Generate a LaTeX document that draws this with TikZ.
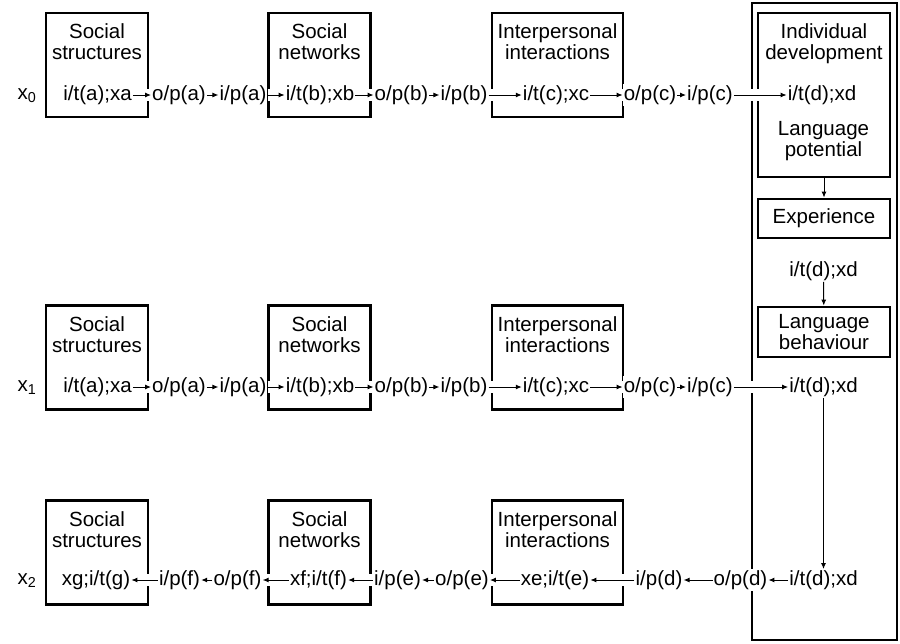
\documentclass[tikz,border=0pt]{standalone}
\usepackage{fontspec}
\setmainfont{Liberation Sans}
\usetikzlibrary{arrows.meta,positioning}

\tikzset{
  box/.style={draw, line width=2.8pt, minimum width=102pt, minimum height=104pt, inner sep=0pt},
  wide/.style={box, minimum width=131pt},
  side/.style={box, minimum width=132pt, align=center},
  title/.style={align=center, inner sep=0pt},
  lab/.style={fill=white, inner sep=1pt, text height=15pt, text depth=4.5pt},
  link/.style={->, line width=1pt, preaction={draw=white, line width=12pt, -}},
  down/.style={->, line width=1pt},
}

\begin{document}
\begin{tikzpicture}[x=1pt, y=-1pt, font=\fontsize{20.5}{21}\selectfont, >={Latex[length=6pt,width=5pt]}]
\useasboundingbox (0,0) rectangle (900,643);

% the individual, right
\node[draw, line width=2.8pt, minimum width=145pt, minimum height=637pt, inner sep=0pt] (person) at (824.5,321.5) {};
\node[side, minimum height=164pt] (indiv) at (824,95) {};
\node[title, below=12pt of indiv.north] (indivt) {Individual\\development};
\node[title] (pot) at (823.5,141) {Language\\potential};
\node[side, minimum height=39pt] (exper) at (824,218.5) {Experience};
\node[lab] (itdm) at (823.5,271) {i/t(d);xd};
\node[side, minimum height=50pt] (langb) at (824,332) {Language\\behaviour};
\draw[down] (indiv) -- (exper);
\draw[down] (itdm) -- (langb);

% row x0
\node (x0) at (27,96) {x\textsubscript{0}};
\node[box] (ss0) at (97,65) {};
\node[title, below=12pt of ss0.north] (ss0t) {Social\\structures};
\node[box] (sn0) at (319.5,65) {};
\node[title, below=12pt of sn0.north] (sn0t) {Social\\networks};
\node[wide] (ii0) at (557.5,65) {};
\node[title, below=12pt of ii0.north] (ii0t) {Interpersonal\\interactions};
\node[lab] (ita0) at (97.5,95) {i/t(a);xa};
\node[lab] (opa0) at (179,95) {o/p(a)};
\node[lab] (ipa0) at (243,95) {i/p(a)};
\node[lab] (itb0) at (320,95) {i/t(b);xb};
\node[lab] (opb0) at (401.5,95) {o/p(b)};
\node[lab] (ipb0) at (464,95) {i/p(b)};
\node[lab] (itc0) at (556,95) {i/t(c);xc};
\node[lab] (opc0) at (650,95) {o/p(c)};
\node[lab] (ipc0) at (710,95) {i/p(c)};
\node[lab] (itd0) at (822,95) {i/t(d);xd};
\draw[link] (ita0) -- (opa0);
\draw[link] (opa0) -- (ipa0);
\draw[link] (ipa0) -- (itb0);
\draw[link] (itb0) -- (opb0);
\draw[link] (opb0) -- (ipb0);
\draw[link] (ipb0) -- (itc0);
\draw[link] (itc0) -- (opc0);
\draw[link] (opc0) -- (ipc0);
\draw[link] (ipc0) -- (itd0);

% row x1
\node (x1) at (27,388) {x\textsubscript{1}};
\node[box] (ss1) at (97,357.5) {};
\node[title, below=12pt of ss1.north] (ss1t) {Social\\structures};
\node[box] (sn1) at (319.5,357.5) {};
\node[title, below=12pt of sn1.north] (sn1t) {Social\\networks};
\node[wide] (ii1) at (557.5,357.5) {};
\node[title, below=12pt of ii1.north] (ii1t) {Interpersonal\\interactions};
\node[lab] (ita1) at (97.5,387) {i/t(a);xa};
\node[lab] (opa1) at (179,387) {o/p(a)};
\node[lab] (ipa1) at (243,387) {i/p(a)};
\node[lab] (itb1) at (320,387) {i/t(b);xb};
\node[lab] (opb1) at (401.5,387) {o/p(b)};
\node[lab] (ipb1) at (464,387) {i/p(b)};
\node[lab] (itc1) at (556,387) {i/t(c);xc};
\node[lab] (opc1) at (650,387) {o/p(c)};
\node[lab] (ipc1) at (710,387) {i/p(c)};
\node[lab] (itd1) at (823.5,387) {i/t(d);xd};
\draw[link] (ita1) -- (opa1);
\draw[link] (opa1) -- (ipa1);
\draw[link] (ipa1) -- (itb1);
\draw[link] (itb1) -- (opb1);
\draw[link] (opb1) -- (ipb1);
\draw[link] (ipb1) -- (itc1);
\draw[link] (itc1) -- (opc1);
\draw[link] (opc1) -- (ipc1);
\draw[link] (ipc1) -- (itd1);

% row x2
\node (x2) at (27,581) {x\textsubscript{2}};
\node[box] (ss2) at (97,552.5) {};
\node[title, below=12pt of ss2.north] (ss2t) {Social\\structures};
\node[box] (sn2) at (319.5,552.5) {};
\node[title, below=12pt of sn2.north] (sn2t) {Social\\networks};
\node[wide] (ii2) at (557.5,552.5) {};
\node[title, below=12pt of ii2.north] (ii2t) {Interpersonal\\interactions};
\node[lab] (itd2) at (823.5,580) {i/t(d);xd};
\node[lab] (opd2) at (740.5,580) {o/p(d)};
\node[lab] (ipd2) at (659,580) {i/p(d)};
\node[lab] (ite2) at (555,580) {xe;i/t(e)};
\node[lab] (ope2) at (462,580) {o/p(e)};
\node[lab] (ipe2) at (397.5,580) {i/p(e)};
\node[lab] (itf2) at (318.5,580) {xf;i/t(f)};
\node[lab] (opf2) at (237.5,580) {o/p(f)};
\node[lab] (ipf2) at (179.5,580) {i/p(f)};
\node[lab] (itg2) at (96,580) {xg;i/t(g)};
\draw[down] (itd1) -- (itd2);
\draw[link] (itd2) -- (opd2);
\draw[link] (opd2) -- (ipd2);
\draw[link] (ipd2) -- (ite2);
\draw[link] (ite2) -- (ope2);
\draw[link] (ope2) -- (ipe2);
\draw[link] (ipe2) -- (itf2);
\draw[link] (itf2) -- (opf2);
\draw[link] (opf2) -- (ipf2);
\draw[link] (ipf2) -- (itg2);
\end{tikzpicture}
\end{document}
